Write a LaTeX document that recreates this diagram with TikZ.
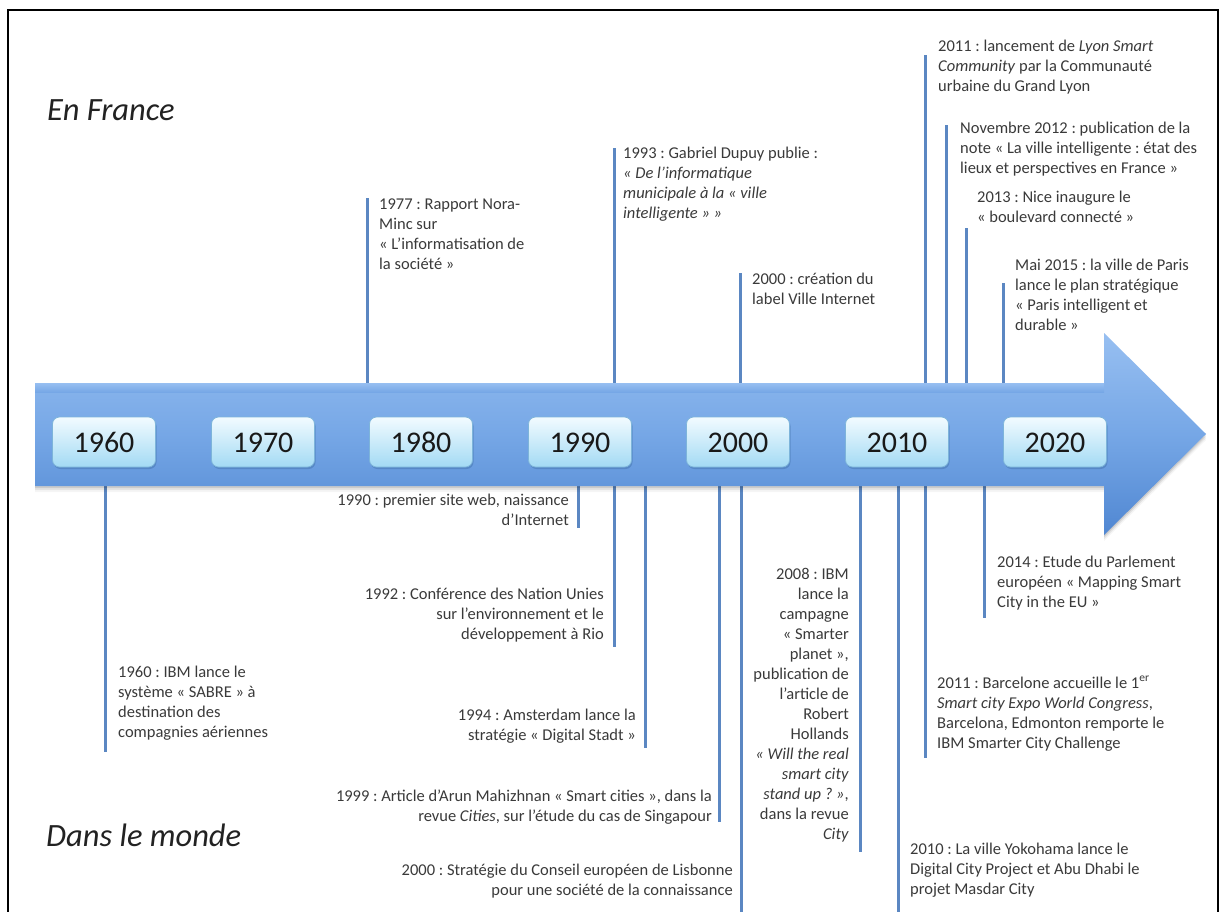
\documentclass[tikz,border=0pt]{standalone}
\usepackage{fontspec}
\setmainfont{Carlito}
\usetikzlibrary{calc}
\frenchspacing
\definecolor{tickc}{HTML}{5B87C2}
\definecolor{txt}{HTML}{3A3A3A}
\definecolor{headc}{HTML}{222222}
\definecolor{arrtop}{HTML}{97BFF1}
\definecolor{arrmid}{HTML}{76A7E6}
\definecolor{arrbot}{HTML}{5087D2}
\definecolor{boxtop}{HTML}{F2FBFF}
\definecolor{boxbot}{HTML}{A3DAF4}
\definecolor{boxedge}{HTML}{7DB4DA}
\definecolor{boxshadow}{HTML}{3F6FA8}
\tikzset{
  tick/.style={draw=tickc, line width=3pt},
  ev/.style={inner sep=0pt, text=txt, font=\fontsize{16.5}{20}\selectfont\frenchspacing, execute at begin node=\strut},
  evl/.style={ev, anchor=north west, align=left},
  evr/.style={ev, anchor=north east, align=right},
  yearbox/.style={rounded corners=7pt, minimum width=103pt, minimum height=50pt, inner sep=0pt,
    top color=boxtop, bottom color=boxbot, draw=boxedge, line width=0.8pt,
    text height=20pt, text depth=0pt,
    font=\fontsize{30}{36}\selectfont, text=black!90},
  yearshadow/.style={rounded corners=7pt, minimum width=103pt, minimum height=50pt, inner sep=0pt,
    fill=boxshadow, fill opacity=0.45, draw=none},
  heading/.style={inner sep=0pt, anchor=west, text=headc, font=\fontsize{32.5}{38}\selectfont\itshape}
}
\begin{document}
\begin{tikzpicture}[x=1pt,y=-1pt]
\useasboundingbox (0,0) rectangle (1220,912);
\fill[white] (0,0) rectangle (1220,912);
% frame
\draw[line width=2.6pt, black] (8,930) -- (8,10) -- (1218,10) -- (1218,930);

% headings
\node[heading] (hfr) at (47,110) {En France};
\node[heading] (hmo) at (46,835) {Dans le monde};

% tick end coordinates (top)
\coordinate (t77a) at (367,383); \coordinate (t77b) at (367,198);
\coordinate (t93a) at (614,383); \coordinate (t93b) at (614,148);
\coordinate (t00a) at (740,383); \coordinate (t00b) at (740,273);
\coordinate (t11a) at (925,383); \coordinate (t11b) at (925,55);
\coordinate (t12a) at (946,383); \coordinate (t12b) at (946,125);
\coordinate (t13a) at (966,383); \coordinate (t13b) at (966,228);
\coordinate (t15a) at (1003,383); \coordinate (t15b) at (1003,283);
% tick end coordinates (bottom)
\coordinate (b60a) at (105,486); \coordinate (b60b) at (105,752);
\coordinate (b90a) at (578,486); \coordinate (b90b) at (578,528);
\coordinate (b92a) at (614,486); \coordinate (b92b) at (614,647);
\coordinate (b94a) at (645,486); \coordinate (b94b) at (645,748);
\coordinate (b99a) at (719,486); \coordinate (b99b) at (719,822);
\coordinate (b00a) at (741,486); \coordinate (b00b) at (741,930);
\coordinate (b08a) at (860,486); \coordinate (b08b) at (860,852);
\coordinate (b10a) at (898,486); \coordinate (b10b) at (898,930);
\coordinate (b11a) at (925,486); \coordinate (b11b) at (925,758);
\coordinate (b14a) at (984,486); \coordinate (b14b) at (984,618);

\foreach \p in {t77,t93,t00,t11,t12,t13,t15,b60,b90,b92,b94,b99,b00,b08,b10,b11,b14}
  \draw[tick] (\p a) -- (\p b);

% arrow shadow
\foreach \o/\op in {2/0.10,4/0.07,6/0.04}
  \fill[black, opacity=\op] (35,383+\o) -- (1104,383+\o) -- (1104,333+\o) -- (1206,434+\o) -- (1104,535+\o) -- (1104,486+\o) -- (35,486+\o) -- cycle;
% arrow
\shade[top color=arrtop, bottom color=arrbot, middle color=arrmid]
  (35,383) -- (1104,383) -- (1104,333) -- (1206,434) -- (1104,535) -- (1104,486) -- (35,486) -- cycle;
\shade[top color=arrtop, bottom color=arrmid]
  (35,383) -- (1104,383) -- (1104,392) -- (35,392) -- cycle;

% year boxes
\foreach \x/\y/\n in {104/1960/y60,263/1970/y70,421/1980/y80,580/1990/y90,738/2000/y00,897/2010/y10,1055/2020/y20}{
  \node[yearshadow] at (\x+1,444) {};
  \node[yearbox] (\n) at (\x,442) {\y};
}

% top events
\node[evl] (e77) at (379,199) {1977 : Rapport Nora-\\Minc sur\\« L’informatisation de\\la société »};
\node[evl] (e93) at (623,147) {1993 : Gabriel Dupuy publie :\\\textit{« De l’informatique}\\\textit{municipale à la « ville}\\\textit{intelligente » »}};
\node[evl] (e00f) at (752,273) {2000 : création du\\label Ville Internet};
\node[evl] (e11f) at (938,40) {2011 : lancement de \textit{Lyon Smart}\\\textit{Community} par la Communauté\\urbaine du Grand Lyon};
\node[evl] (e12) at (960,122) {Novembre 2012 : publication de la\\note « La ville intelligente : état des\\lieux et perspectives en France »};
\node[evl] (e13) at (977,191) {2013 : Nice inaugure le\\« boulevard connecté »};
\node[evl] (e15) at (1015,259) {Mai 2015 : la ville de Paris\\lance le plan stratégique\\« Paris intelligent et\\durable »};

% bottom events
\node[evl] (e60) at (118,666) {1960 : IBM lance le\\système « SABRE » à\\destination des\\compagnies aériennes};
\node[evr] (e90) at (569,494) {1990 : premier site web, naissance\\d’Internet};
\node[evr] (e92) at (604,588) {1992 : Conférence des Nation Unies\\sur l’environnement et le\\développement à Rio};
\node[evr] (e94) at (636,709) {1994 : Amsterdam lance la\\stratégie « Digital Stadt »};
\node[evr] (e99) at (712,790) {1999 : Article d’Arun Mahizhnan « Smart cities », dans la\\revue \textit{Cities}, sur l’étude du cas de Singapour};
\node[evr] (e00m) at (733,864) {2000 : Stratégie du Conseil européen de Lisbonne\\pour une société de la connaissance};
\node[evr] (e08) at (849,568) {2008 : IBM\\lance la\\campagne\\« Smarter\\planet »,\\publication de\\l’article de\\Robert\\Hollands\\\textit{« Will the real}\\\textit{smart city}\\\textit{stand up ? »},\\dans la revue\\\textit{City}};
\node[evl] (e10) at (910,843) {2010 : La ville Yokohama lance le\\Digital City Project et Abu Dhabi le\\projet Masdar City};
\node[evl] (e11m) at (937,676) {2011 : Barcelone accueille le 1\textsuperscript{er}\\\textit{Smart city Expo World Congress},\\Barcelona, Edmonton remporte le\\IBM Smarter City Challenge};
\node[evl] (e14) at (997,556) {2014 : Etude du Parlement\\européen « Mapping Smart\\City in the EU »};
\end{tikzpicture}
\end{document}
